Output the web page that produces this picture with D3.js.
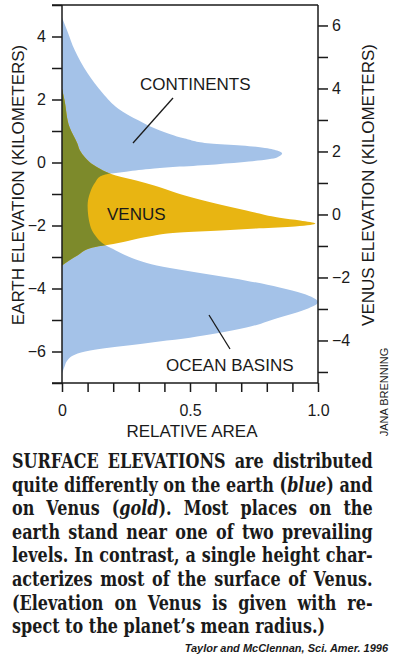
<!DOCTYPE html>
<html>
<head>
<meta charset="utf-8">
<script src="https://cdn.jsdelivr.net/npm/d3@7/dist/d3.min.js"></script>
<style>
  body { margin: 0; background: #fff; }
  svg { display: block; }
</style>
</head>
<body>
<svg id="chart" width="393" height="656"></svg>
<script>
// Earth hypsometry: elevation (km) and relative area
const earthElev = [4.60, 4.19, 3.56, 2.83, 2.19, 1.71, 1.33, 1.02, 0.76, 0.60, 0.54, 0.48, 0.38, 0.29,
  0.16, 0.03, -0.06, -0.13, -0.19, -0.29, -0.35, -0.44, -0.63, -0.95, -1.37, -2.00, -2.32, -2.63,
  -2.79, -2.95, -3.11, -3.27, -3.43, -3.59, -3.75, -3.97, -4.16, -4.44, -4.70, -4.92, -5.24, -5.43,
  -5.56, -5.68, -5.78, -5.87, -5.97, -6.10, -6.29, -6.48, -6.70];
const earthArea = [0, 0.02, 0.05, 0.10, 0.16, 0.22, 0.30, 0.38, 0.48, 0.58, 0.70, 0.78, 0.84, 0.86,
  0.84, 0.73, 0.60, 0.46, 0.36, 0.25, 0.19, 0.15, 0.13, 0.11, 0.10, 0.11, 0.13, 0.17,
  0.21, 0.25, 0.30, 0.37, 0.48, 0.60, 0.72, 0.85, 0.94, 1.00, 0.94, 0.85, 0.72, 0.60,
  0.50, 0.38, 0.29, 0.19, 0.11, 0.05, 0.02, 0.01, 0];

// Venus hypsometry, elevation relative to mean radius (km)
const venusElev = [4.00, 3.62, 2.76, 2.25, 2.03, 1.81, 1.56, 1.40, 1.24, 1.08, 0.92, 0.60, 0.35, 0.13,
  -0.10, -0.19, -0.29, -0.38, -0.44, -0.51, -0.57, -0.70, -0.89, -0.98, -1.05, -1.30, -1.62];
const venusArea = [0, 0.01, 0.03, 0.06, 0.07, 0.09, 0.125, 0.16, 0.21, 0.29, 0.36, 0.48, 0.60, 0.72,
  0.85, 0.93, 0.99, 0.91, 0.77, 0.62, 0.46, 0.34, 0.23, 0.17, 0.12, 0.06, 0];

const earthTicks = d3.range(-7, 6);
const earthLabels = [-6, -4, -2, 0, 2, 4];
const venusTicks = d3.range(-5, 7);
const venusLabels = [-4, -2, 0, 2, 4, 6];
const areaTicks = d3.range(0, 11).map(d => d / 10);
const areaLabels = [0, 0.5, 1];

const captionLines = [
  "SURFACE ELEVATIONS are distributed",
  "quite differently on the earth (*blue*) and",
  "on Venus (*gold*). Most places on the",
  "earth stand near one of two prevailing",
  "levels. In contrast, a single height char-",
  "acterizes most of the surface of Venus.",
  "(Elevation on Venus is given with re-",
  "spect to the planet\u2019s mean radius.)"
];

const BLUE = "#a4c2e8";
const GOLD = "#e8b512";
const OLIVE = "#7d8a2b";
const INK = "#1a1a1a";
const SANS = "'Liberation Sans', Arial, sans-serif";

const svg = d3.select("#chart");
const venusOffset = 1.65;   // Venus zero sits 1.65 km below Earth's sea level on the page

const x = d3.scaleLinear().domain([0, 1]).range([62, 318]);
const yE = d3.scaleLinear().domain([-7, 5]).range([383, 5]);
const yV = d3.scaleLinear().domain([-7 + venusOffset, 5 + venusOffset]).range([383, 5]);

const earthData = earthElev.map((z, i) => ({ z, a: earthArea[i] }));
const venusData = venusElev.map((z, i) => ({ z, a: venusArea[i] }));

const earthShape = d3.area()
  .curve(d3.curveMonotoneY)
  .y(d => yE(d.z)).x0(x(0)).x1(d => x(d.a));
const venusShape = d3.area()
  .curve(d3.curveMonotoneY)
  .y(d => yV(d.z)).x0(x(0)).x1(d => x(d.a));

svg.append("defs").append("clipPath").attr("id", "earth-clip")
  .append("path").attr("d", earthShape(earthData));

svg.append("path").attr("d", earthShape(earthData)).attr("fill", BLUE);
svg.append("path").attr("d", venusShape(venusData)).attr("fill", GOLD);
svg.append("path").attr("d", venusShape(venusData)).attr("fill", OLIVE)
  .attr("clip-path", "url(#earth-clip)");

// axes
const fmt = d => (d < 0 ? "\u2212" + Math.abs(d) : "" + d);

const left = svg.append("g").attr("transform", `translate(${x(0)},0)`)
  .call(d3.axisLeft(yE).tickValues(earthTicks).tickSize(10).tickSizeOuter(0)
    .tickFormat(d => earthLabels.includes(d) ? fmt(d) : ""));
const right = svg.append("g").attr("transform", `translate(${x(1)},0)`)
  .call(d3.axisRight(yV).tickValues(venusTicks).tickSize(10).tickSizeOuter(0)
    .tickFormat(d => venusLabels.includes(d) ? fmt(d) : ""));
const bottom = svg.append("g").attr("transform", `translate(0,${yE(-7)})`)
  .call(d3.axisBottom(x).tickValues(areaTicks).tickSize(9).tickSizeOuter(0)
    .tickFormat(d => areaLabels.includes(d) ? (d === 0 ? "0" : d3.format(".1f")(d)) : ""));

[left, right, bottom].forEach(g => {
  g.select(".domain").remove();
  g.selectAll("line").attr("stroke", INK).attr("stroke-width", 1.5);
  g.selectAll("text").attr("fill", INK).attr("font-family", SANS).attr("font-size", 16);
});
left.selectAll("text").attr("x", -16);
right.selectAll("text").attr("x", 14);
bottom.selectAll("text").attr("y", 22);

// frame
const frame = svg.append("g").attr("stroke", INK).attr("stroke-width", 1.5);
frame.append("line").attr("x1", x(0) - 10).attr("x2", x(1)).attr("y1", yE(5)).attr("y2", yE(5));
frame.append("line").attr("x1", x(0) - 10).attr("x2", x(1)).attr("y1", yE(-7)).attr("y2", yE(-7));
frame.append("line").attr("x1", x(0)).attr("x2", x(0)).attr("y1", yE(5)).attr("y2", yE(-7));
frame.append("line").attr("x1", x(1)).attr("x2", x(1)).attr("y1", yE(5)).attr("y2", yE(-7));

// axis titles
const label = (t, px, py, rot, size) =>
  svg.append("text")
    .attr("transform", `translate(${px},${py}) rotate(${rot})`)
    .attr("text-anchor", "middle")
    .attr("font-family", SANS).attr("font-size", size).attr("fill", INK)
    .text(t);
label("EARTH ELEVATION (KILOMETERS)", 24, 185, -90, 17);
label("VENUS ELEVATION (KILOMETERS)", 374, 185, -90, 17);
label("RELATIVE AREA", 192, 437, 0, 17);
label("JANA BRENNING", 388, 392, -90, 11);

// annotations
svg.append("text").attr("x", 140).attr("y", 90).attr("font-family", SANS).attr("font-size", 17)
  .attr("fill", INK).text("CONTINENTS");
svg.append("text").attr("x", 107).attr("y", 220).attr("font-family", SANS).attr("font-size", 17)
  .attr("fill", INK).text("VENUS");
svg.append("text").attr("x", 166).attr("y", 371).attr("font-family", SANS).attr("font-size", 17)
  .attr("fill", INK).text("OCEAN BASINS");
svg.append("line").attr("x1", 173).attr("y1", 98).attr("x2", 133).attr("y2", 143)
  .attr("stroke", INK).attr("stroke-width", 1.3);
svg.append("line").attr("x1", 209).attr("y1", 315).attr("x2", 230).attr("y2", 349)
  .attr("stroke", INK).attr("stroke-width", 1.3);

// caption: one shared horizontal squeeze so every line fits, then justify with word spacing
const capLeft = 12, capRight = 373, capTop = 468, capStep = 23.6;
const target = capRight - capLeft;
const capTexts = captionLines.map((line, i) => {
  const t = svg.append("text")
    .attr("x", 0).attr("y", 0)
    .attr("font-family", "'DejaVu Serif', serif").attr("font-weight", "bold")
    .attr("font-size", 19.5).attr("fill", INK);
  line.split("*").forEach((part, j) => {
    t.append("tspan").attr("font-style", j % 2 ? "italic" : null).text(part);
  });
  return { t, line, natural: t.node().getComputedTextLength(), last: i === captionLines.length - 1 };
});
const squeeze = Math.min(1, d3.min(capTexts, d => target / d.natural));
capTexts.forEach((d, i) => {
  d.t.attr("transform", `translate(${capLeft},${capTop + i * capStep}) scale(${squeeze},1)`);
  if (!d.last) {
    const gaps = d.line.split(" ").length - 1;
    d.t.attr("word-spacing", (target / squeeze - d.natural) / gaps);
  }
});

svg.append("text").attr("x", 388).attr("y", 652).attr("text-anchor", "end")
  .attr("font-family", SANS).attr("font-size", 11).attr("font-weight", "bold")
  .attr("font-style", "italic").attr("fill", INK)
  .text("Taylor and McClennan, Sci. Amer. 1996");
</script>
</body>
</html>
